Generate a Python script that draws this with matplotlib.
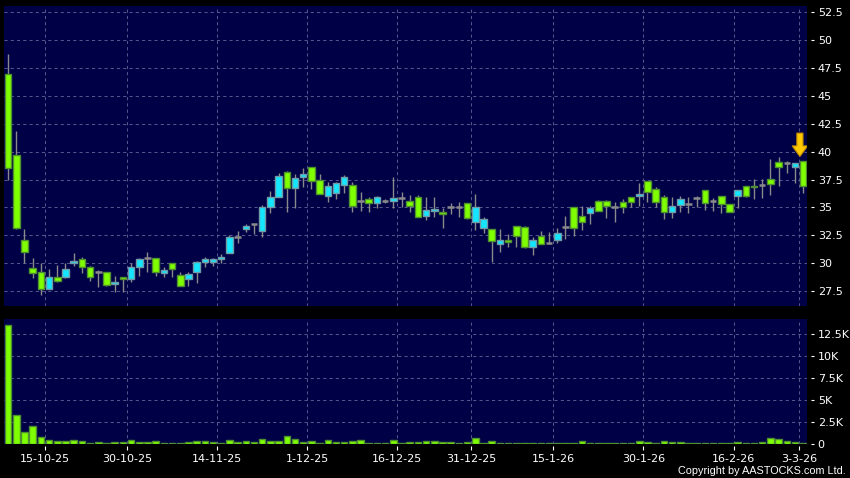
import numpy as np
import matplotlib
matplotlib.use('Agg')
import matplotlib.pyplot as plt

# ---------------- data ----------------
opens = [47.0, 39.68, 32.09, 29.55, 29.19, 27.72, 28.75, 28.8, 30.0, 30.39,
         29.64, 29.25, 29.25, 28.12, 28.75, 28.57, 29.7, 30.45, 30.45, 29.1,
         30.0, 28.93, 28.57, 29.25, 30.09, 30.09, 30.36, 30.95, 32.38, 33.05,
         33.52, 32.92, 35.02, 35.91, 38.15, 36.72, 37.7, 38.6, 37.46, 36.06,
         36.27, 36.99, 36.99, 35.56, 35.76, 35.38, 35.56, 35.61, 35.88, 35.61,
         35.97, 34.27, 34.66, 34.6, 35.07, 35.04, 35.38, 33.73, 33.14, 33.05,
         31.7, 32.09, 33.37, 33.28, 31.43, 32.47, 31.79, 32.09, 33.28, 35.02,
         34.27, 34.48, 35.61, 35.61, 35.07, 35.47, 35.97, 36.03, 37.4, 36.68,
         35.97, 34.57, 35.22, 35.31, 35.88, 36.54, 35.56, 36.0, 35.29, 36.03,
         36.93, 36.95, 37.04, 37.53, 39.05, 38.96, 38.6, 39.17]
closes = [38.5, 33.14, 30.99, 29.1, 27.67, 28.75, 28.44, 29.46, 30.23, 29.64,
          28.75, 29.25, 28.06, 28.35, 28.62, 29.7, 30.36, 30.45, 29.25, 29.4,
          29.46, 27.99, 29.04, 30.09, 30.36, 30.36, 30.56, 32.33, 32.38, 33.34,
          33.52, 35.02, 35.91, 37.82, 36.72, 37.62, 38.0, 37.4, 36.18, 36.95,
          37.17, 37.76, 35.16, 35.56, 35.38, 35.91, 35.56, 35.82, 35.88, 35.16,
          34.18, 34.78, 34.84, 34.39, 35.07, 35.04, 34.09, 35.02, 33.94, 32.0,
          32.09, 31.91, 32.45, 31.43, 32.09, 31.7, 31.79, 32.69, 33.28, 33.19,
          33.73, 34.93, 34.69, 35.16, 35.07, 35.07, 35.47, 36.21, 36.36, 35.47,
          34.57, 35.16, 35.73, 35.31, 35.88, 35.38, 35.56, 35.31, 34.6, 36.54,
          36.0, 36.81, 37.04, 37.08, 38.6, 38.96, 38.96, 36.93]
highs = [48.75, 41.85, 33.05, 30.5, 30.0, 29.46, 29.85, 30.0, 30.9, 30.6,
         29.8, 29.4, 29.25, 28.9, 28.8, 30.0, 30.5, 31.04, 30.45, 29.64,
         30.0, 29.25, 29.25, 30.2, 30.6, 30.5, 30.83, 32.54, 32.9, 33.52,
         33.52, 35.22, 36.48, 38.06, 38.24, 38.0, 38.5, 38.6, 38.0, 37.31,
         37.31, 37.91, 37.31, 36.42, 35.97, 36.0, 35.76, 37.76, 36.36, 36.12,
         36.12, 35.97, 35.97, 34.93, 35.43, 35.52, 35.38, 36.21, 34.18, 33.05,
         33.05, 32.6, 33.37, 33.3, 32.38, 32.9, 32.78, 33.14, 34.24, 35.02,
         35.13, 35.13, 35.67, 35.67, 35.52, 35.73, 35.97, 37.17, 37.4, 36.86,
         36.1, 35.91, 36.0, 35.97, 36.05, 36.54, 35.82, 36.0, 35.29, 36.6,
         36.93, 37.53, 37.53, 39.32, 39.5, 39.17, 38.96, 39.17]
lows = [37.46, 33.1, 30.0, 28.65, 27.19, 27.67, 28.35, 28.71, 29.76, 29.16,
        28.4, 27.85, 27.97, 27.46, 27.46, 28.35, 28.9, 29.25, 28.86, 28.8,
        28.8, 27.97, 27.99, 28.26, 29.7, 29.8, 30.0, 30.9, 31.85, 32.83,
        32.63, 32.38, 34.48, 35.91, 34.62, 34.98, 36.8, 36.63, 36.18, 35.52,
        35.76, 36.27, 34.57, 34.71, 34.62, 34.98, 35.38, 34.93, 35.02, 34.62,
        34.15, 33.88, 34.18, 33.19, 34.39, 34.18, 33.97, 32.98, 32.74, 30.14,
        31.04, 31.44, 31.49, 31.4, 30.74, 31.7, 31.7, 31.79, 32.18, 32.47,
        32.98, 33.49, 34.69, 34.03, 33.67, 34.53, 35.07, 35.16, 35.47, 35.07,
        33.97, 34.03, 34.62, 34.48, 35.0, 34.78, 34.71, 34.48, 34.6, 34.93,
        35.9, 35.73, 35.82, 36.09, 36.95, 38.06, 37.17, 36.27]
volumes = [13570, 3250, 1330, 2020, 720, 380, 350, 350, 420, 300,
           110, 190, 110, 150, 150, 380, 230, 230, 300, 110,
           80, 80, 190, 270, 270, 150, 110, 380, 230, 300,
           230, 500, 300, 300, 920, 500, 150, 270, 110, 460,
           190, 190, 300, 460, 80, 80, 110, 420, 110, 190,
           190, 300, 270, 190, 150, 110, 150, 640, 110, 300,
           100, 90, 80, 100, 90, 100, 90, 100, 90, 100,
           300, 100, 90, 100, 90, 100, 110, 350, 150, 80,
           270, 230, 190, 100, 80, 80, 100, 100, 90, 230,
           100, 100, 190, 660, 570, 300, 150, 110]
date_labels = ['15-10-25', '30-10-25', '14-11-25', '1-12-25', '16-12-25',
               '31-12-25', '15-1-26', '30-1-26', '16-2-26', '3-3-26']
date_index = [5, 15, 26, 37, 48, 57, 67, 78, 89, 97]
price_ticks = [27.5, 30, 32.5, 35, 37.5, 40, 42.5, 45, 47.5, 50, 52.5]
vol_ticks = [0, 2500, 5000, 7500, 10000, 12500]
vol_tick_labels = ['0', '2.5K', '5K', '7.5K', '10K', '12.5K']

# ---------------- style ----------------
BG = '#000046'
GRID = '#55558c'
UP = '#14e6ff'
UP_EDGE = '#6f9aa6'
DOWN = '#7fff00'
DOWN_EDGE = '#4f8f2f'
WICK = '#8a8a8a'
W = 850
H = 478

fig = plt.figure(figsize=(W / 100, H / 100), dpi=100, facecolor='black')
ax = fig.add_axes([4 / W, 1 - 306 / H, 803.3 / W, 300 / H])
axv = fig.add_axes([4 / W, 1 - 444 / H, 803.3 / W, 125 / H])

o = np.array(opens)
c = np.array(closes)
hi = np.array(highs)
lo = np.array(lows)
x = np.arange(len(o))
bw = 0.8

for a in (ax, axv):
    a.set_facecolor(BG)
    for s in a.spines.values():
        s.set_visible(False)
    a.set_xlim(-0.5, len(o) - 0.5)
    a.yaxis.tick_right()
    a.spines['right'].set_position(('outward', 3))
    a.spines['bottom'].set_position(('outward', 1.5))
    a.set_xticks([i - 0.5 for i in date_index])
    a.grid(True, color=GRID, linestyle=(0, (3, 3)), linewidth=0.75)
    a.set_axisbelow(True)
    a.tick_params(axis='y', colors='white', labelsize=8, length=2.5, width=0.8,
                  pad=2, direction='out')

# price panel
ax.set_ylim(26.17, 53.06)
ax.set_yticks(price_ticks)
ax.set_yticklabels(['%g' % t for t in price_ticks])
ax.tick_params(axis='x', length=0, labelbottom=False)

ax.vlines(x, lo, hi, color=WICK, linewidth=1, zorder=2)
up = c > o
dn = c < o
eq = c == o
ax.bar(x[up], (c - o)[up], bottom=o[up], width=bw, color=UP,
       edgecolor=UP_EDGE, linewidth=1, zorder=3)
ax.bar(x[dn], (o - c)[dn], bottom=c[dn], width=bw, color=DOWN,
       edgecolor=DOWN_EDGE, linewidth=1, zorder=3)
ax.hlines(c[eq], x[eq] - bw / 2, x[eq] + bw / 2, color=WICK, linewidth=1.8, zorder=3)

# marker arrow above last candle
last = len(o) - 1
ay0 = hi[last] + 2.5
ax.arrow(last - 0.4, ay0, 0, -2.1, width=0.75, head_width=1.9, head_length=0.95,
         length_includes_head=True, facecolor='#ffc800', edgecolor='#c08a00',
         linewidth=0.8, zorder=5)

# volume panel
axv.set_ylim(-40, 14250)
axv.set_yticks(vol_ticks)
axv.set_yticklabels(vol_tick_labels)
axv.bar(x, volumes, width=bw, color=DOWN, edgecolor=DOWN_EDGE, linewidth=1, zorder=3)
axv.set_xticklabels(date_labels)
axv.tick_params(axis='x', colors='white', labelsize=8, length=3, width=0.8,
                pad=3, direction='out')

fig.text(846 / W, 1 - 471 / H, 'Copyright by AASTOCKS.com Ltd.', ha='right',
         va='center', color='white', fontsize=7.8, family='Liberation Sans')

fig.savefig('out.png', dpi=100, facecolor='black')
